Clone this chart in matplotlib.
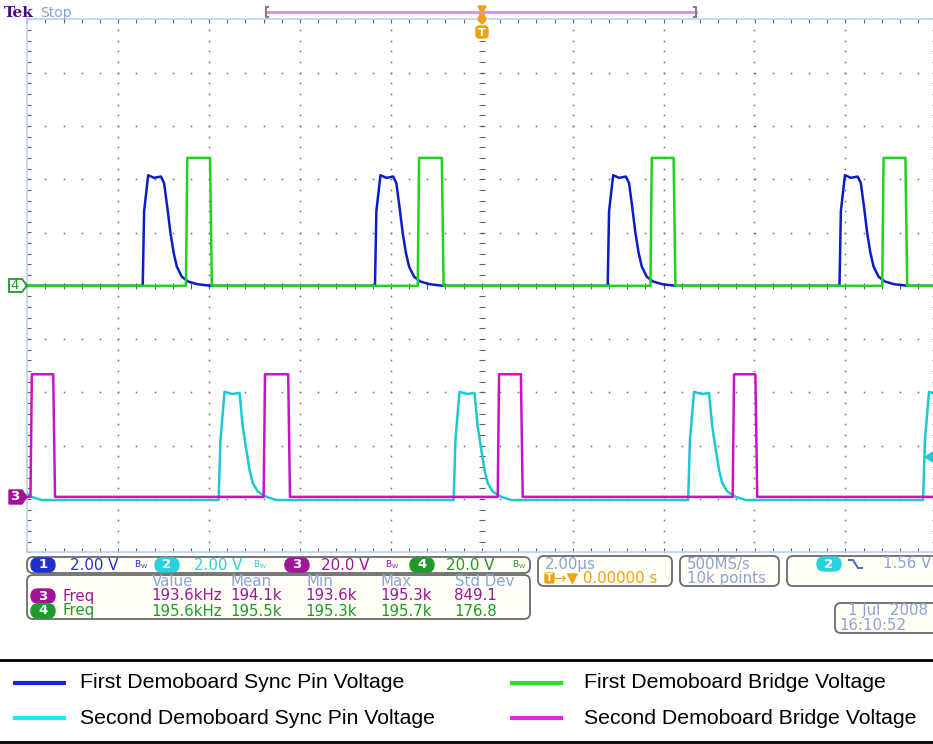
import numpy as np
import matplotlib.pyplot as plt
from matplotlib.patches import FancyBboxPatch, Polygon

# ---- waveform data read from the screen (time in us, level in V) ----
# channel 1: first demoboard sync pin (2 V/div, ground at 0 div)
sync1_starts = [-7.46, -2.35, 2.77, 7.87]
sync1_dt = [0, 0.03, 0.12, 0.25, 0.40, 0.47, 0.54, 0.61, 0.68, 0.75, 0.86, 1.0, 1.2, 1.5]
sync1_v = [0, 2.8, 4.15, 4.05, 4.1, 3.85, 2.95, 1.98, 1.24, 0.72, 0.34, 0.16, 0.06, 0.0]

# channel 2: second demoboard sync pin (2 V/div, ground at -4.02 div)
sync2_starts = [-10.95, -5.79, -0.62, 4.54, 9.71]
sync2_dt = [0, 0.04, 0.13, 0.30, 0.46, 0.53, 0.61, 0.68, 0.75, 0.86, 1.05, 1.27]
sync2_v = [0, 2.26, 4.06, 3.98, 4.02, 2.76, 1.88, 1.12, 0.64, 0.32, 0.12, 0.0]

# channel 4: first demoboard bridge (20 V/div, ground at 0 div)
bridge1_rise = [-6.51, -1.41, 3.71, 8.81]
bridge1_fall = [-5.96, -0.86, 4.24, 9.34]
bridge1_high = 48.0

# channel 3: second demoboard bridge (20 V/div, ground at -3.96 div)
bridge2_rise = [-9.93, -4.80, 0.35, 5.52]
bridge2_fall = [-9.41, -4.24, 0.88, 6.04]
bridge2_high = 46.0

legend_labels = ['First Demoboard Sync Pin Voltage', 'First Demoboard Bridge Voltage',
                 'Second Demoboard Sync Pin Voltage', 'Second Demoboard Bridge Voltage']

meas_header = ['Value', 'Mean', 'Min', 'Max', 'Std Dev']
meas_ch3 = ['193.6kHz', '194.1k', '193.6k', '195.3k', '849.1']
meas_ch4 = ['195.6kHz', '195.5k', '195.3k', '195.7k', '176.8']


def sync_trace(starts, dt, v):
    t = [-11.0]
    y = [0.0]
    for s in starts:
        t += [s + d for d in dt]
        y += list(v)
    t.append(11.0)
    y.append(0.0)
    return np.array(t), np.array(y)


def bridge_trace(rise, fall, high):
    t = [-11.0]
    y = [0.0]
    for r, f in zip(rise, fall):
        t += [r, r + 0.03, f - 0.02, f + 0.02]
        y += [0.0, high, high, 0.0]
    t.append(11.0)
    y.append(0.0)
    return np.array(t), np.array(y)


W, H = 933, 744
fig = plt.figure(figsize=(W / 100, H / 100), dpi=100)
fig.patch.set_facecolor('white')

# scope graticule: 10 x 10 divisions
x0, x1, y0, y1 = 27.3, 936.3, 19.3, 552.3
ax = fig.add_axes([x0 / W, 1 - y1 / H, (x1 - x0) / W, (y1 - y0) / H], zorder=1)
ax.set_xlim(-10, 10)
ax.set_ylim(-5, 5)
for s in ax.spines.values():
    s.set_color('#bccfea')
    s.set_linewidth(1.2)
ax.set_xticks(np.arange(-10, 10.01, 0.4))
ax.set_yticks(np.arange(-5, 5.01, 0.2))
ax.tick_params(direction='in', length=3, width=0.8, color='#606060',
               top=True, right=True, labelbottom=False, labelleft=False)

dot = dict(ls='none', marker='s', ms=1.1, color='#707070', mew=0)
for gx in np.arange(-8, 8.01, 2):
    if gx == 0:
        continue
    ax.plot(np.full(51, gx), np.linspace(-5, 5, 51), **dot)
for gy in np.arange(-4, 4.01, 1):
    if gy == 0:
        continue
    ax.plot(np.arange(-10, 10.01, 0.4), np.full(51, gy), **dot)
ax.plot(np.zeros(51), np.linspace(-5, 5, 51), ls='none', marker='_', ms=4, color='#606060', mew=0.8)
ax.plot(np.arange(-10, 10.01, 0.4), np.zeros(51), ls='none', marker='|', ms=4, color='#606060', mew=0.8)

# traces (converted to divisions)
t1, v1 = sync_trace(sync1_starts, sync1_dt, sync1_v)
t2, v2 = sync_trace(sync2_starts, sync2_dt, sync2_v)
t4, v4 = bridge_trace(bridge1_rise, bridge1_fall, bridge1_high)
t3, v3 = bridge_trace(bridge2_rise, bridge2_fall, bridge2_high)
ax.plot(t1, v1 / 2.0, color='#0a1ec8', lw=1.8, zorder=3)
ax.plot(t2, v2 / 2.0 - 4.02, color='#1ec8d2', lw=1.8, zorder=3)
ax.plot(t3, v3 / 20.0 - 3.96, color='#c814c8', lw=1.8, zorder=4)
ax.plot(t4, v4 / 20.0, color='#22d222', lw=1.8, zorder=4)

# ---- overlay in pixel coordinates ----
ov = fig.add_axes([0, 0, 1, 1], zorder=3)
ov.set_xlim(0, W)
ov.set_ylim(H, 0)
ov.axis('off')
ov.patch.set_alpha(0)

sans = 'DejaVu Sans'
light = '#8ca2d8'
orange = '#f0a010'
fs = 10.8

ov.text(4, 13, 'Tek', family='DejaVu Serif', weight='bold', fontsize=11, color='#4a0a7a', va='center')
ov.text(40, 13, 'Stop', family=sans, fontsize=10, color=light, va='center')

# record bar with trigger position
ov.plot([266, 696], [12, 12], color='#d890d8', lw=2)
ov.plot([268, 266, 266, 268], [7, 7, 17, 17], color='#808080', lw=1.5)
ov.plot([694, 696, 696, 694], [7, 7, 17, 17], color='#808080', lw=1.5)
ov.add_patch(Polygon([[478, 6], [486, 6], [484, 10], [484, 15], [486, 19], [478, 19], [480, 15], [480, 10]],
                     closed=True, fc=orange, ec=orange))
ov.add_patch(Polygon([[478, 20], [486, 20], [482, 24]], closed=True, fc=orange, ec=orange))
ov.add_patch(FancyBboxPatch((476, 26), 12, 12, boxstyle='round,pad=0,rounding_size=3', fc=orange, ec=orange))
ov.text(482, 32.5, 'T', color='white', weight='bold', fontsize=8, ha='center', va='center', family=sans)

# channel markers
ov.add_patch(Polygon([[9, 279], [22, 279], [27, 285.5], [22, 292], [9, 292]], closed=True,
                     fc='white', ec='#1e9a28', lw=1.3))
ov.text(15, 285.5, '4', color='#1e9a28', fontsize=9.5, ha='center', va='center', family=sans)
ov.add_patch(Polygon([[9, 490], [22, 490], [27, 497], [22, 504], [9, 504]], closed=True,
                     fc='#a0149b', ec='#a0149b', lw=1))
ov.text(15, 497, '3', color='white', fontsize=9.5, weight='bold', ha='center', va='center', family=sans)
# trigger level arrow on the right
ov.add_patch(Polygon([[925, 457], [933, 452], [933, 462]], closed=True, fc='#1ec8d2', ec='#1ec8d2'))


def rbox(x, y, w, h):
    ov.add_patch(FancyBboxPatch((x, y), w, h, boxstyle='round,pad=0,rounding_size=6',
                                fc='#fffff6', ec='#6a6a6a', lw=1.3))


def badge(cx, cy, label, color):
    ov.add_patch(FancyBboxPatch((cx - 12, cy - 7), 24, 14, boxstyle='round,pad=0,rounding_size=7',
                                fc=color, ec=color))
    ov.text(cx, cy, label, color='white', weight='bold', fontsize=9.5, ha='center', va='center', family=sans)


ch_cols = ['#2030d0', '#28d2dc', '#a0149b', '#1e9a28']
rbox(27, 557, 503, 16)
for i, (bx, txt, bw) in enumerate([(43, '2.00 V', 141), (167, '2.00 V', 260),
                                   (297, '20.0 V', 392), (422, '20.0 V', 519)]):
    badge(bx, 565, str(i + 1), ch_cols[i])
    ov.text(bx + 27 if i < 2 else bx + 24, 565, txt, color=ch_cols[i], fontsize=fs, family=sans,
            va='center', ha='left')
    ov.text(bw, 565, r'$\mathregular{B_W}$', color=ch_cols[i], fontsize=6.5, va='center', ha='center')

rbox(27, 575, 503, 44)
col_x = [152, 231, 306, 381, 455]
for cx, h in zip(col_x, meas_header):
    ov.text(cx, 581, h, color=light, fontsize=fs, family=sans, va='center')
badge(43, 596, '3', '#a0149b')
badge(43, 611, '4', '#1e9a28')
ov.text(62, 596, 'Freq', color='#a0149b', fontsize=fs, family=sans, va='center')
ov.text(62, 611, 'Freq', color='#1e9a28', fontsize=fs, family=sans, va='center')
for cx, a, b in zip(col_x, meas_ch3, meas_ch4):
    ov.text(cx - 1, 596, a, color='#a0149b', fontsize=fs, family=sans, va='center')
    ov.text(cx - 1, 611, b, color='#1e9a28', fontsize=fs, family=sans, va='center')

# timebase / acquisition / trigger / date boxes
rbox(538, 556, 134, 30)
ov.text(545, 564, '2.00\u00b5s', color=light, fontsize=fs, family=sans, va='center')
ov.add_patch(FancyBboxPatch((545, 573), 9, 10, boxstyle='round,pad=0,rounding_size=1.5', fc=orange, ec=orange))
ov.text(549.5, 578, 'T', color='white', weight='bold', fontsize=7, ha='center', va='center', family=sans)
ov.text(554, 578, '\u2192\u25bc 0.00000 s', color=orange, fontsize=fs, family=sans, va='center')

rbox(680, 556, 99, 30)
ov.text(687, 564, '500MS/s', color=light, fontsize=fs, family=sans, va='center')
ov.text(687, 578, '10k points', color=light, fontsize=fs, family=sans, va='center')

rbox(787, 556, 160, 30)
badge(829, 564, '2', '#28d2dc')
ov.plot([849, 853, 858, 862], [560, 560, 568, 568], color='#5070b0', lw=1.5)
ov.text(883, 564, '1.56 V', color=light, fontsize=fs, family=sans, va='center')

rbox(835, 603, 110, 30)
ov.text(848, 611, '1 Jul  2008', color=light, fontsize=fs, family=sans, va='center')
ov.text(839, 625, '16:10:52', color=light, fontsize=fs, family=sans, va='center')

# ---- legend strip ----
ov.plot([0, W], [660, 660], color='black', lw=2)
ov.plot([0, W], [742, 742], color='black', lw=2)
leg_cols = ['#1a22e6', '#22e622', '#22e6f0', '#e622e6']
leg_pos = [(15, 683), (512, 683), (15, 718), (512, 718)]
for (lx, ly), lab, c in zip(leg_pos, legend_labels, leg_cols):
    ov.plot([lx, lx + 49], [ly, ly], color=c, lw=3)
    ov.text(lx + 65 if lx < 100 else lx + 72, ly, lab, family='Liberation Sans', fontsize=15.3,
            color='black', va='center')

fig.savefig('out.png', dpi=100)
